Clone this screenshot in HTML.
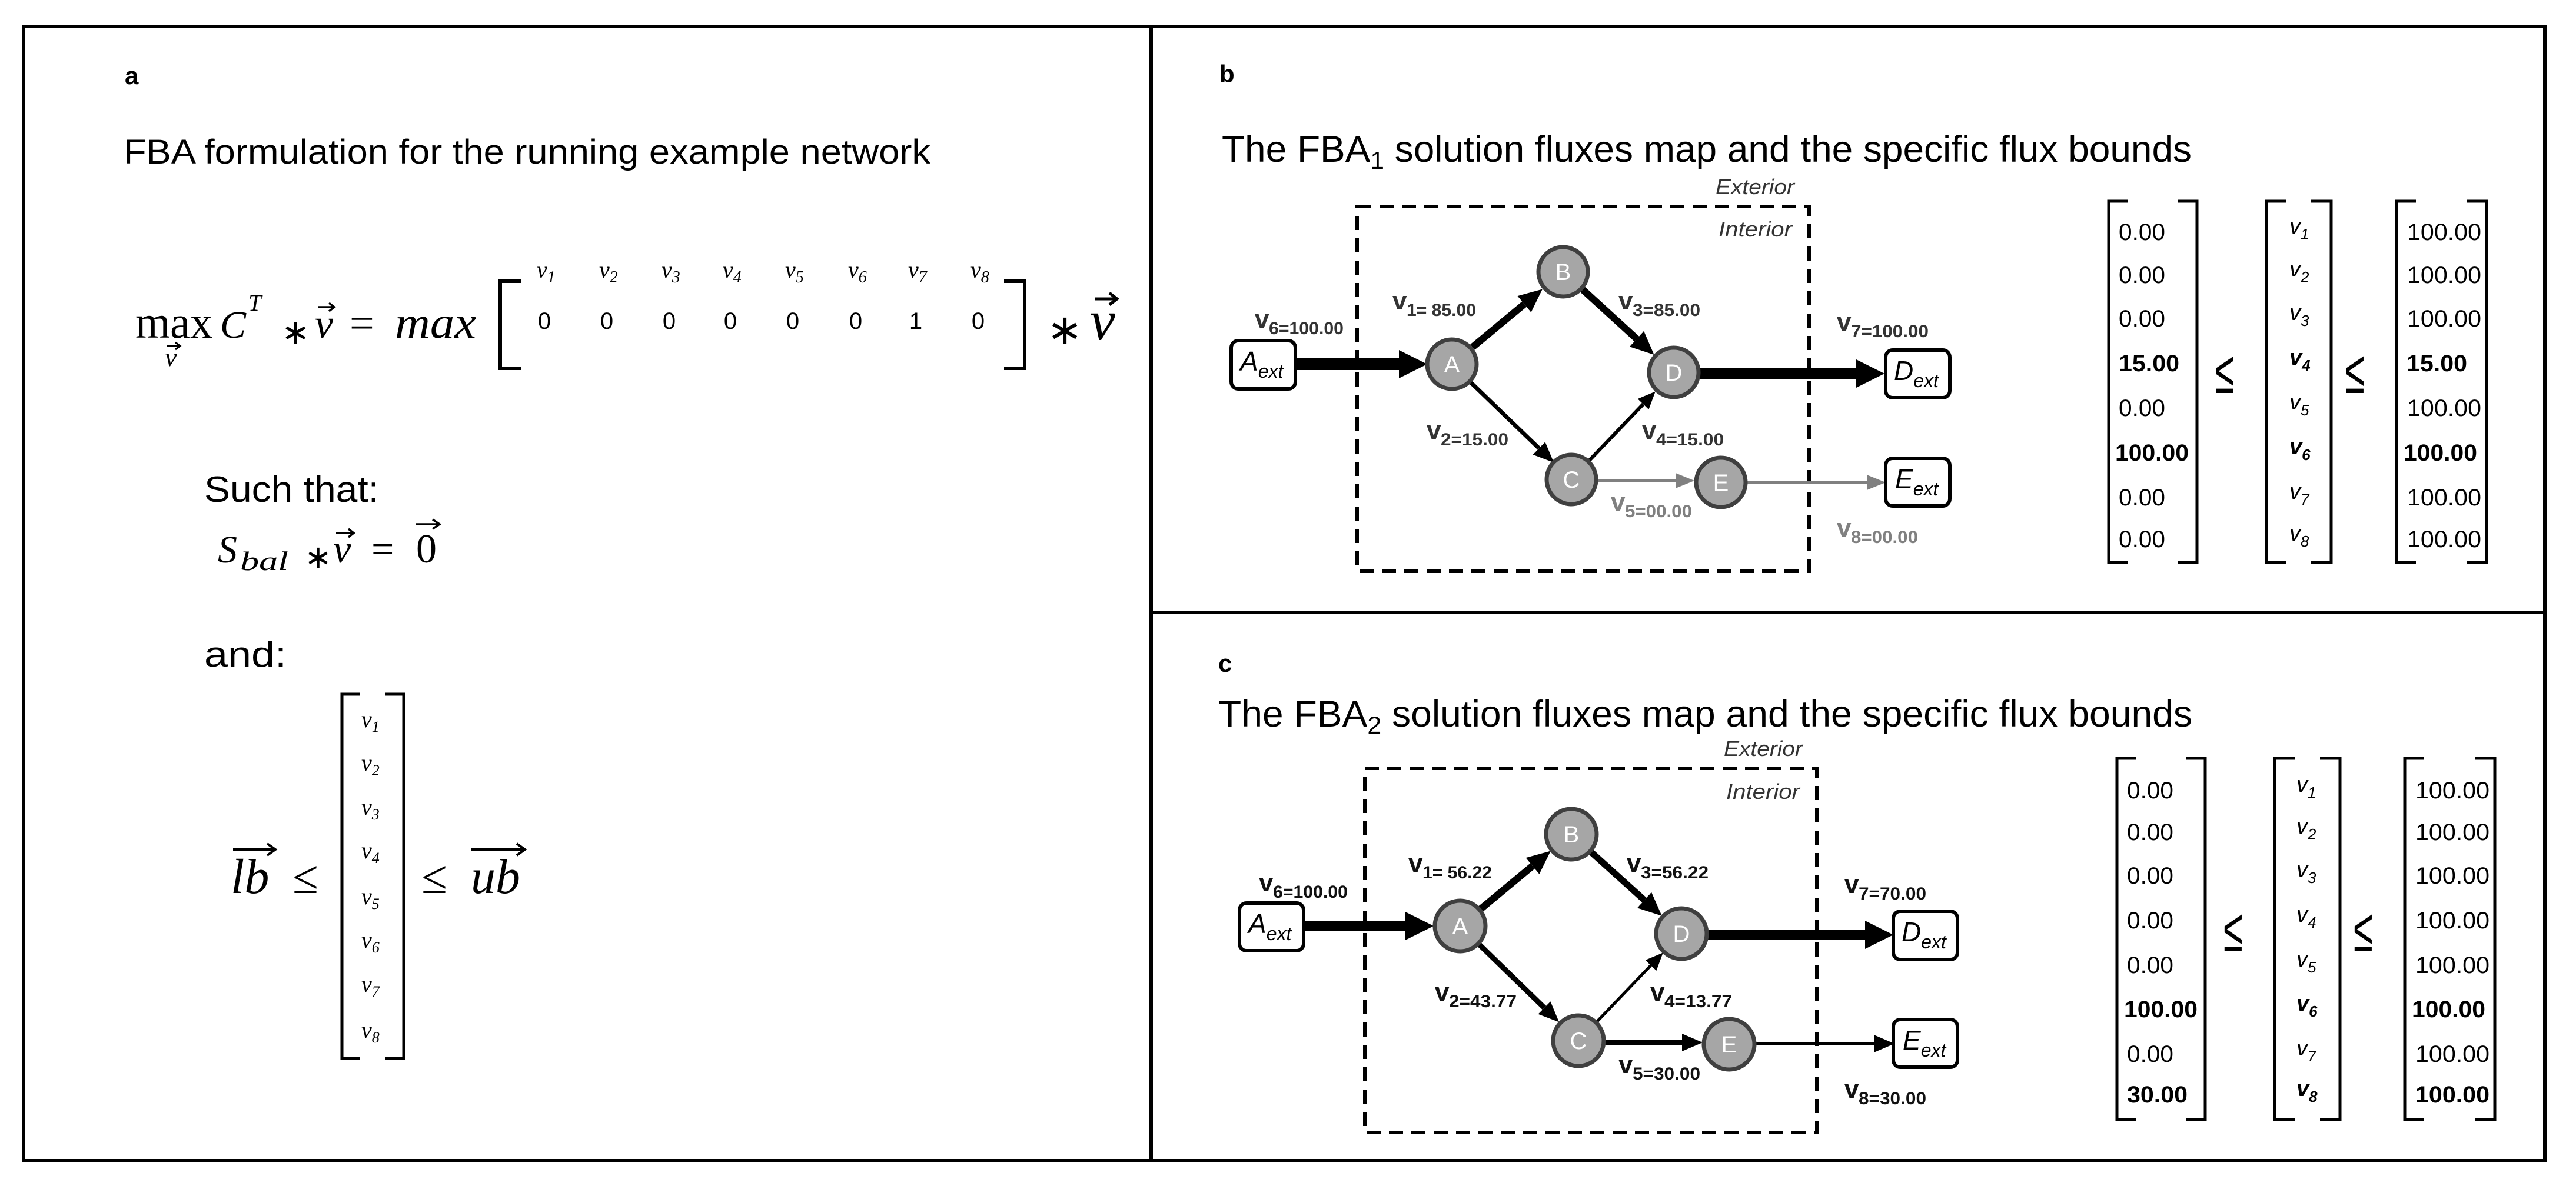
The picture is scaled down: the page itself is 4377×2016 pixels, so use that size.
<!DOCTYPE html>
<html><head><meta charset="utf-8"><style>html,body{margin:0;padding:0;background:#fff}svg{display:block}</style></head>
<body>
<svg xmlns="http://www.w3.org/2000/svg" width="4377" height="2016" viewBox="0 0 4377 2016">
<defs>
<marker id="hXL" markerUnits="userSpaceOnUse" markerWidth="50" markerHeight="50" refX="0" refY="24" orient="auto"><path d="M0,0 L48,24 L0,48 z" fill="#000"/></marker>
<marker id="hL" markerUnits="userSpaceOnUse" markerWidth="44" markerHeight="40" refX="0" refY="18" orient="auto"><path d="M0,0 L40,18 L0,36 z" fill="#000"/></marker>
<marker id="hM" markerUnits="userSpaceOnUse" markerWidth="40" markerHeight="34" refX="0" refY="15" orient="auto"><path d="M0,0 L35,15 L0,30 z" fill="#000"/></marker>
<marker id="hS" markerUnits="userSpaceOnUse" markerWidth="34" markerHeight="30" refX="0" refY="13" orient="auto"><path d="M0,0 L30,13 L0,26 z" fill="#000"/></marker>
<marker id="hSg" markerUnits="userSpaceOnUse" markerWidth="36" markerHeight="30" refX="0" refY="13" orient="auto"><path d="M0,0 L32,13 L0,26 z" fill="#808080"/></marker>
</defs>
<g fill="none" stroke="#000" stroke-width="6">
<rect x="40" y="45" width="4284" height="1928"/>
<line x1="1956" y1="45" x2="1956" y2="1973"/>
<line x1="1956" y1="1041" x2="4324" y2="1041"/>
</g>

<!-- Panel a -->
<g font-family="Liberation Sans, Arial, sans-serif" fill="#000">
<text x="212" y="143" font-size="42" font-weight="bold">a</text>
<text x="210" y="278" font-size="58" textLength="1371" lengthAdjust="spacingAndGlyphs">FBA formulation for the running example network</text>
</g>
<g font-family="Liberation Serif, serif" fill="#000">
<text x="230" y="574" font-size="78" textLength="131" lengthAdjust="spacingAndGlyphs">max</text>
<text x="280" y="622" font-size="46" font-style="italic">v</text>
<path d="M283,588 L305,588 M298,582 L306,588 L298,594" stroke="#000" stroke-width="3" fill="none"/>
<text x="374" y="574" font-size="66" font-style="italic">C</text>
<text x="422" y="528" font-size="40" font-style="italic">T</text>
<text x="478" y="584" font-size="58">∗</text>
<text x="535" y="574" font-size="70" font-style="italic">v</text>
<path d="M541,522 L567,522 M559,515 L568,522 L559,529" stroke="#000" stroke-width="3.5" fill="none"/>
<text x="594" y="574" font-size="74">=</text>
<text x="671" y="574" font-size="76" font-style="italic" textLength="138" lengthAdjust="spacingAndGlyphs">max</text>
<text x="1779" y="585" font-size="72">∗</text>
<text x="1852" y="577" font-size="96" font-style="italic">v</text>
<path d="M1860,508 L1896,508 M1885,498 L1898,508 L1885,518" stroke="#000" stroke-width="5" fill="none"/>
</g>
<g fill="none" stroke="#000" stroke-width="6">
<path d="M885,478 L850,478 L850,626 L885,626"/>
<path d="M1706,478 L1741,478 L1741,626 L1706,626"/>
</g>
<g font-family="Liberation Sans, sans-serif" font-size="40" fill="#000" text-anchor="middle">
<text x="925" y="559">0</text><text x="1031" y="559">0</text><text x="1137" y="559">0</text><text x="1241" y="559">0</text><text x="1347" y="559">0</text><text x="1454" y="559">0</text><text x="1556" y="559">1</text><text x="1662" y="559">0</text>
</g>
<g font-family="Liberation Serif, serif" font-style="italic" fill="#000">
<text x="912" y="472" font-size="40">v<tspan font-size="28" dy="8">1</tspan></text>
<text x="1018" y="472" font-size="40">v<tspan font-size="28" dy="8">2</tspan></text>
<text x="1124" y="472" font-size="40">v<tspan font-size="28" dy="8">3</tspan></text>
<text x="1228" y="472" font-size="40">v<tspan font-size="28" dy="8">4</tspan></text>
<text x="1334" y="472" font-size="40">v<tspan font-size="28" dy="8">5</tspan></text>
<text x="1441" y="472" font-size="40">v<tspan font-size="28" dy="8">6</tspan></text>
<text x="1543" y="472" font-size="40">v<tspan font-size="28" dy="8">7</tspan></text>
<text x="1649" y="472" font-size="40">v<tspan font-size="28" dy="8">8</tspan></text>
</g>
<g font-family="Liberation Sans, sans-serif" fill="#000">
<text x="347" y="853" font-size="62" textLength="297" lengthAdjust="spacingAndGlyphs">Such that:</text>
<text x="347" y="1133" font-size="60" textLength="140" lengthAdjust="spacingAndGlyphs">and:</text>
</g>
<g font-family="Liberation Serif, serif" fill="#000">
<text x="370" y="956" font-size="66" font-style="italic">S</text>
<text x="408" y="969" font-size="46" font-style="italic" textLength="82" lengthAdjust="spacingAndGlyphs">bal</text>
<text x="517" y="966" font-size="56">∗</text>
<text x="566" y="956" font-size="68" font-style="italic">v</text>
<path d="M571,906 L600,906 M592,899 L601,906 L592,913" stroke="#000" stroke-width="3.5" fill="none"/>
<text x="631" y="956" font-size="68">=</text>
<text x="707" y="956" font-size="70">0</text>
<path d="M707,891 L746,891 M735,883 L747,891 L735,899" stroke="#000" stroke-width="3.5" fill="none"/>
<text x="392" y="1518" font-size="84" font-style="italic">lb</text>
<path d="M396,1444 L466,1444 M454,1434 L468,1444 L454,1454" stroke="#000" stroke-width="4" fill="none"/>
<text x="497" y="1518" font-size="80">≤</text>
<text x="716" y="1518" font-size="80">≤</text>
<text x="800" y="1518" font-size="84" font-style="italic">ub</text>
<path d="M800,1444 L890,1444 M878,1434 L892,1444 L878,1454" stroke="#000" stroke-width="4" fill="none"/>
</g>
<g fill="none" stroke="#000" stroke-width="5">
<path d="M612,1180 L581,1180 L581,1799 L612,1799"/>
<path d="M655,1180 L686,1180 L686,1799 L655,1799"/>
</g>
<g font-family="Liberation Serif, serif" font-style="italic" font-size="40" fill="#000">
<text x="614" y="1236">v<tspan font-size="26" dy="8">1</tspan></text>
<text x="614" y="1310">v<tspan font-size="26" dy="8">2</tspan></text>
<text x="614" y="1385">v<tspan font-size="26" dy="8">3</tspan></text>
<text x="614" y="1459">v<tspan font-size="26" dy="8">4</tspan></text>
<text x="614" y="1537">v<tspan font-size="26" dy="8">5</tspan></text>
<text x="614" y="1611">v<tspan font-size="26" dy="8">6</tspan></text>
<text x="614" y="1686">v<tspan font-size="26" dy="8">7</tspan></text>
<text x="614" y="1764">v<tspan font-size="26" dy="8">8</tspan></text>
</g>

<!-- Panel b -->
<g font-family="Liberation Sans, sans-serif" fill="#000">
<text x="2072" y="140" font-size="42" font-weight="bold">b</text>
<text x="2076" y="275" font-size="63" textLength="1648" lengthAdjust="spacingAndGlyphs">The FBA<tspan font-size="42" dy="12">1</tspan><tspan dy="-12"> solution fluxes map and the specific flux bounds</tspan></text>
<text x="2915" y="330" font-size="36" font-style="italic" fill="#333" textLength="134" lengthAdjust="spacingAndGlyphs">Exterior</text>
<text x="2920" y="402" font-size="36" font-style="italic" fill="#333" textLength="125" lengthAdjust="spacingAndGlyphs">Interior</text>
</g>
<rect x="2306" y="351" width="768" height="620" fill="none" stroke="#000" stroke-width="6" stroke-dasharray="24,14"/>
<g stroke="#000" fill="none">
<line x1="2201" y1="619" x2="2377" y2="619" stroke-width="20" marker-end="url(#hXL)"/>
<line x1="2502" y1="590" x2="2590" y2="517" stroke-width="12" marker-end="url(#hL)"/>
<line x1="2689" y1="492" x2="2781" y2="576" stroke-width="12" marker-end="url(#hL)"/>
<line x1="2499" y1="650" x2="2615" y2="762" stroke-width="7" marker-end="url(#hM)"/>
<line x1="2701" y1="782" x2="2792" y2="687" stroke-width="6" marker-end="url(#hS)"/>
<line x1="2889" y1="635" x2="3154" y2="635" stroke-width="20" marker-end="url(#hXL)"/>
<line x1="2713" y1="817" x2="2847" y2="817" stroke-width="5" stroke="#808080" marker-end="url(#hSg)"/>
<line x1="2969" y1="820" x2="3172" y2="820" stroke-width="5" stroke="#808080" marker-end="url(#hSg)"/>
</g>
<g fill="#a6a6a6" stroke="#3f3f3f" stroke-width="7">
<circle cx="2656" cy="462" r="42"/><circle cx="2467" cy="619" r="42"/><circle cx="2844" cy="633" r="42"/><circle cx="2670" cy="815" r="42"/><circle cx="2924" cy="820" r="42"/>
</g>
<g font-family="Liberation Sans, sans-serif" font-size="40" fill="#fff" text-anchor="middle">
<text x="2656" y="476">B</text><text x="2467" y="633">A</text><text x="2844" y="647">D</text><text x="2670" y="829">C</text><text x="2924" y="834">E</text>
</g>
<g fill="#fff" stroke="#000" stroke-width="6">
<rect x="2092" y="579" width="109" height="82" rx="12"/>
<rect x="3204" y="595" width="109" height="81" rx="12"/>
<rect x="3204" y="779" width="109" height="81" rx="12"/>
</g>
<g font-family="Liberation Sans, sans-serif" font-style="italic" fill="#000">
<text x="2107" y="630" font-size="46">A<tspan font-size="32" dy="12">ext</tspan></text>
<text x="3218" y="646" font-size="46">D<tspan font-size="32" dy="12">ext</tspan></text>
<text x="3220" y="830" font-size="46">E<tspan font-size="32" dy="12">ext</tspan></text>
</g>
<g font-family="Liberation Sans, sans-serif" font-weight="bold" font-size="30" fill="#333">
<text x="2132" y="557" font-size="44">v</text><text x="2156" y="568" textLength="127" lengthAdjust="spacingAndGlyphs">6=100.00</text>
<text x="2366" y="526" font-size="44">v</text><text x="2390" y="537" textLength="118" lengthAdjust="spacingAndGlyphs">1= 85.00</text>
<text x="2750" y="526" font-size="44">v</text><text x="2774" y="537" textLength="115" lengthAdjust="spacingAndGlyphs">3=85.00</text>
<text x="3121" y="562" font-size="44">v</text><text x="3145" y="573" textLength="132" lengthAdjust="spacingAndGlyphs">7=100.00</text>
<text x="2424" y="746" font-size="44">v</text><text x="2448" y="757" textLength="115" lengthAdjust="spacingAndGlyphs">2=15.00</text>
<text x="2790" y="746" font-size="44">v</text><text x="2814" y="757" textLength="115" lengthAdjust="spacingAndGlyphs">4=15.00</text>
<g fill="#808080">
<text x="2737" y="868" font-size="44">v</text><text x="2761" y="879" textLength="114" lengthAdjust="spacingAndGlyphs">5=00.00</text>
<text x="3121" y="912" font-size="44">v</text><text x="3145" y="923" textLength="114" lengthAdjust="spacingAndGlyphs">8=00.00</text>
</g>
</g>
<!-- b matrices -->
<g fill="none" stroke="#000" stroke-width="5">
<path d="M3616,342 L3583,342 L3583,956 L3616,956"/><path d="M3700,342 L3733,342 L3733,956 L3700,956"/>
<path d="M3885,342 L3851,342 L3851,956 L3885,956"/><path d="M3927,342 L3961,342 L3961,956 L3927,956"/>
<path d="M4105,342 L4072,342 L4072,956 L4105,956"/><path d="M4192,342 L4225,342 L4225,956 L4192,956"/>
</g>
<g font-family="Liberation Sans, sans-serif" font-size="40" fill="#000">
<text x="3600" y="408" textLength="79" lengthAdjust="spacingAndGlyphs">0.00</text>
<text x="3600" y="481" textLength="79" lengthAdjust="spacingAndGlyphs">0.00</text>
<text x="3600" y="555" textLength="79" lengthAdjust="spacingAndGlyphs">0.00</text>
<text x="3600" y="631" font-weight="bold" textLength="103" lengthAdjust="spacingAndGlyphs">15.00</text>
<text x="3600" y="707" textLength="79" lengthAdjust="spacingAndGlyphs">0.00</text>
<text x="3594" y="783" font-weight="bold" textLength="125" lengthAdjust="spacingAndGlyphs">100.00</text>
<text x="3600" y="859" textLength="79" lengthAdjust="spacingAndGlyphs">0.00</text>
<text x="3600" y="930" textLength="79" lengthAdjust="spacingAndGlyphs">0.00</text>
<text x="4090" y="408" textLength="126" lengthAdjust="spacingAndGlyphs">100.00</text>
<text x="4090" y="481" textLength="126" lengthAdjust="spacingAndGlyphs">100.00</text>
<text x="4090" y="555" textLength="126" lengthAdjust="spacingAndGlyphs">100.00</text>
<text x="4089" y="631" font-weight="bold" textLength="103" lengthAdjust="spacingAndGlyphs">15.00</text>
<text x="4090" y="707" textLength="126" lengthAdjust="spacingAndGlyphs">100.00</text>
<text x="4084" y="783" font-weight="bold" textLength="125" lengthAdjust="spacingAndGlyphs">100.00</text>
<text x="4090" y="859" textLength="126" lengthAdjust="spacingAndGlyphs">100.00</text>
<text x="4090" y="930" textLength="126" lengthAdjust="spacingAndGlyphs">100.00</text>
</g>
<g font-family="Liberation Sans, sans-serif" fill="#000">
<text x="0" y="0" font-size="80" transform="translate(3764,668) scale(0.75,1.3)">≤</text>
<text x="0" y="0" font-size="80" transform="translate(3985,668) scale(0.75,1.3)">≤</text>
</g>
<g font-family="Liberation Sans, sans-serif" font-style="italic" font-size="38" fill="#000">
<text x="3890" y="397">v<tspan font-size="26" dy="10">1</tspan></text>
<text x="3890" y="470">v<tspan font-size="26" dy="10">2</tspan></text>
<text x="3890" y="544">v<tspan font-size="26" dy="10">3</tspan></text>
<text x="3890" y="620" font-weight="bold">v<tspan font-size="26" dy="10">4</tspan></text>
<text x="3890" y="696">v<tspan font-size="26" dy="10">5</tspan></text>
<text x="3890" y="772" font-weight="bold">v<tspan font-size="26" dy="10">6</tspan></text>
<text x="3890" y="848">v<tspan font-size="26" dy="10">7</tspan></text>
<text x="3890" y="919">v<tspan font-size="26" dy="10">8</tspan></text>
</g>

<!-- Panel c -->
<g font-family="Liberation Sans, sans-serif" fill="#000">
<text x="2070" y="1142" font-size="42" font-weight="bold">c</text>
<text x="2070" y="1235" font-size="63" textLength="1655" lengthAdjust="spacingAndGlyphs">The FBA<tspan font-size="42" dy="12">2</tspan><tspan dy="-12"> solution fluxes map and the specific flux bounds</tspan></text>
<text x="2929" y="1285" font-size="36" font-style="italic" fill="#333" textLength="134" lengthAdjust="spacingAndGlyphs">Exterior</text>
<text x="2933" y="1358" font-size="36" font-style="italic" fill="#333" textLength="125" lengthAdjust="spacingAndGlyphs">Interior</text>
</g>
<rect x="2319" y="1306" width="768" height="619" fill="none" stroke="#000" stroke-width="6" stroke-dasharray="24,14"/>
<g stroke="#000" fill="none">
<line x1="2215" y1="1574" x2="2388" y2="1574" stroke-width="18" marker-end="url(#hXL)"/>
<line x1="2516" y1="1545" x2="2604" y2="1472" stroke-width="12" marker-end="url(#hL)"/>
<line x1="2703" y1="1448" x2="2794" y2="1530" stroke-width="11" marker-end="url(#hL)"/>
<line x1="2513" y1="1605" x2="2624" y2="1713" stroke-width="9" marker-end="url(#hM)"/>
<line x1="2713" y1="1737" x2="2805" y2="1641" stroke-width="5" marker-end="url(#hS)"/>
<line x1="2902" y1="1589" x2="3169" y2="1589" stroke-width="16" marker-end="url(#hXL)"/>
<line x1="2727" y1="1772" x2="2858" y2="1772" stroke-width="8" marker-end="url(#hM)"/>
<line x1="2983" y1="1774" x2="3184" y2="1774" stroke-width="5" marker-end="url(#hM)"/>
</g>
<g fill="#a6a6a6" stroke="#3f3f3f" stroke-width="7">
<circle cx="2670" cy="1418" r="43"/><circle cx="2481" cy="1574" r="43"/><circle cx="2857" cy="1587" r="43"/><circle cx="2682" cy="1769" r="43"/><circle cx="2938" cy="1775" r="43"/>
</g>
<g font-family="Liberation Sans, sans-serif" font-size="40" fill="#fff" text-anchor="middle">
<text x="2670" y="1432">B</text><text x="2481" y="1588">A</text><text x="2857" y="1601">D</text><text x="2682" y="1783">C</text><text x="2938" y="1789">E</text>
</g>
<g fill="#fff" stroke="#000" stroke-width="6">
<rect x="2106" y="1535" width="109" height="81" rx="12"/>
<rect x="3217" y="1549" width="109" height="82" rx="12"/>
<rect x="3217" y="1733" width="109" height="81" rx="12"/>
</g>
<g font-family="Liberation Sans, sans-serif" font-style="italic" fill="#000">
<text x="2121" y="1586" font-size="46">A<tspan font-size="32" dy="12">ext</tspan></text>
<text x="3231" y="1600" font-size="46">D<tspan font-size="32" dy="12">ext</tspan></text>
<text x="3233" y="1784" font-size="46">E<tspan font-size="32" dy="12">ext</tspan></text>
</g>
<g font-family="Liberation Sans, sans-serif" font-weight="bold" font-size="30" fill="#111">
<text x="2139" y="1515" font-size="44">v</text><text x="2163" y="1526" textLength="127" lengthAdjust="spacingAndGlyphs">6=100.00</text>
<text x="2393" y="1482" font-size="44">v</text><text x="2417" y="1493" textLength="118" lengthAdjust="spacingAndGlyphs">1= 56.22</text>
<text x="2764" y="1482" font-size="44">v</text><text x="2788" y="1493" textLength="115" lengthAdjust="spacingAndGlyphs">3=56.22</text>
<text x="3134" y="1518" font-size="44">v</text><text x="3158" y="1529" textLength="115" lengthAdjust="spacingAndGlyphs">7=70.00</text>
<text x="2438" y="1701" font-size="44">v</text><text x="2462" y="1712" textLength="115" lengthAdjust="spacingAndGlyphs">2=43.77</text>
<text x="2804" y="1701" font-size="44">v</text><text x="2828" y="1712" textLength="115" lengthAdjust="spacingAndGlyphs">4=13.77</text>
<text x="2750" y="1824" font-size="44">v</text><text x="2774" y="1835" textLength="115" lengthAdjust="spacingAndGlyphs">5=30.00</text>
<text x="3134" y="1866" font-size="44">v</text><text x="3158" y="1877" textLength="115" lengthAdjust="spacingAndGlyphs">8=30.00</text>
</g>
<!-- c matrices -->
<g fill="none" stroke="#000" stroke-width="5">
<path d="M3630,1289 L3597,1289 L3597,1903 L3630,1903"/><path d="M3714,1289 L3747,1289 L3747,1903 L3714,1903"/>
<path d="M3899,1289 L3865,1289 L3865,1903 L3899,1903"/><path d="M3942,1289 L3976,1289 L3976,1903 L3942,1903"/>
<path d="M4119,1289 L4086,1289 L4086,1903 L4119,1903"/><path d="M4206,1289 L4239,1289 L4239,1903 L4206,1903"/>
</g>
<g font-family="Liberation Sans, sans-serif" font-size="40" fill="#000">
<text x="3614" y="1357" textLength="79" lengthAdjust="spacingAndGlyphs">0.00</text>
<text x="3614" y="1428" textLength="79" lengthAdjust="spacingAndGlyphs">0.00</text>
<text x="3614" y="1502" textLength="79" lengthAdjust="spacingAndGlyphs">0.00</text>
<text x="3614" y="1578" textLength="79" lengthAdjust="spacingAndGlyphs">0.00</text>
<text x="3614" y="1654" textLength="79" lengthAdjust="spacingAndGlyphs">0.00</text>
<text x="3609" y="1729" font-weight="bold" textLength="125" lengthAdjust="spacingAndGlyphs">100.00</text>
<text x="3614" y="1805" textLength="79" lengthAdjust="spacingAndGlyphs">0.00</text>
<text x="3614" y="1874" font-weight="bold" textLength="103" lengthAdjust="spacingAndGlyphs">30.00</text>
<text x="4104" y="1357" textLength="126" lengthAdjust="spacingAndGlyphs">100.00</text>
<text x="4104" y="1428" textLength="126" lengthAdjust="spacingAndGlyphs">100.00</text>
<text x="4104" y="1502" textLength="126" lengthAdjust="spacingAndGlyphs">100.00</text>
<text x="4104" y="1578" textLength="126" lengthAdjust="spacingAndGlyphs">100.00</text>
<text x="4104" y="1654" textLength="126" lengthAdjust="spacingAndGlyphs">100.00</text>
<text x="4098" y="1729" font-weight="bold" textLength="125" lengthAdjust="spacingAndGlyphs">100.00</text>
<text x="4104" y="1805" textLength="126" lengthAdjust="spacingAndGlyphs">100.00</text>
<text x="4104" y="1874" font-weight="bold" textLength="126" lengthAdjust="spacingAndGlyphs">100.00</text>
</g>
<g font-family="Liberation Sans, sans-serif" fill="#000">
<text x="0" y="0" font-size="80" transform="translate(3778,1617) scale(0.75,1.3)">≤</text>
<text x="0" y="0" font-size="80" transform="translate(3999,1617) scale(0.75,1.3)">≤</text>
</g>
<g font-family="Liberation Sans, sans-serif" font-style="italic" font-size="38" fill="#000">
<text x="3902" y="1346">v<tspan font-size="26" dy="10">1</tspan></text>
<text x="3902" y="1417">v<tspan font-size="26" dy="10">2</tspan></text>
<text x="3902" y="1491">v<tspan font-size="26" dy="10">3</tspan></text>
<text x="3902" y="1567">v<tspan font-size="26" dy="10">4</tspan></text>
<text x="3902" y="1643">v<tspan font-size="26" dy="10">5</tspan></text>
<text x="3902" y="1718" font-weight="bold">v<tspan font-size="26" dy="10">6</tspan></text>
<text x="3902" y="1794">v<tspan font-size="26" dy="10">7</tspan></text>
<text x="3902" y="1863" font-weight="bold">v<tspan font-size="26" dy="10">8</tspan></text>
</g>
</svg>
</body></html>
